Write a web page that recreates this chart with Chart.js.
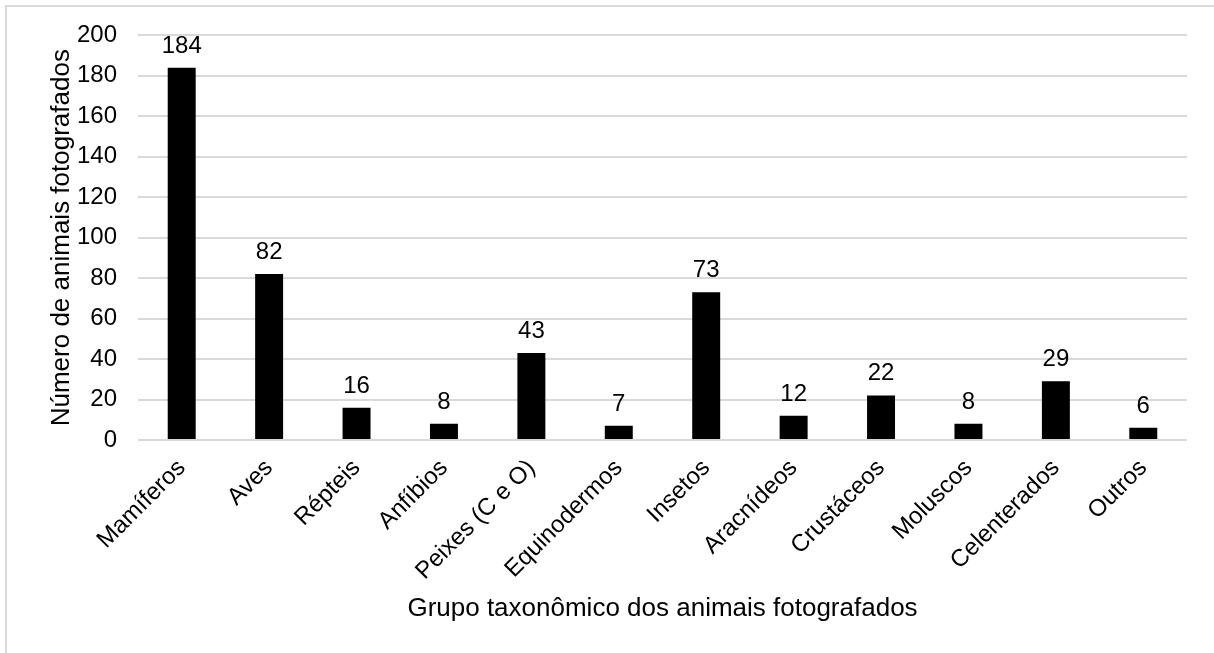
<!DOCTYPE html>
<html>
<head>
<meta charset="utf-8">
<script src="https://cdn.jsdelivr.net/npm/chart.js@4.4.1/dist/chart.umd.min.js"></script>
<style>
  html, body { margin: 0; padding: 0; background: #ffffff; }
  #wrap { position: relative; width: 1214px; height: 653px; overflow: hidden; }
  canvas { display: block; }
</style>
</head>
<body>
<div id="wrap"><canvas id="chart" width="1214" height="653"></canvas></div>
<script>
// Animal groups and the number photographed in each
const categories = ['Mamíferos', 'Aves', 'Répteis', 'Anfíbios', 'Peixes (C e O)', 'Equinodermos',
                    'Insetos', 'Aracnídeos', 'Crustáceos', 'Moluscos', 'Celenterados', 'Outros'];
const counts = [184, 82, 16, 8, 43, 7, 73, 12, 22, 8, 29, 6];
const yTicks = [0, 20, 40, 60, 80, 100, 120, 140, 160, 180, 200];

const FONT = '"Liberation Sans", Arial, Helvetica, sans-serif';

// White background plus the thin frame along the top and left edges
const framePlugin = {
  id: 'frame',
  beforeDraw(chart) {
    const ctx = chart.ctx;
    ctx.save();
    ctx.fillStyle = '#ffffff';
    ctx.fillRect(0, 0, chart.width, chart.height);
    ctx.strokeStyle = '#d9d9d9';
    ctx.lineWidth = 2;
    ctx.beginPath();
    ctx.moveTo(6, chart.height + 5);
    ctx.lineTo(6, 6);
    ctx.lineTo(chart.width + 5, 6);
    ctx.stroke();
    ctx.restore();
  }
};

// Value written above each bar
const valueLabels = {
  id: 'valueLabels',
  afterDatasetsDraw(chart) {
    const ctx = chart.ctx;
    const meta = chart.getDatasetMeta(0);
    ctx.save();
    ctx.fillStyle = '#000000';
    ctx.font = '24px ' + FONT;
    ctx.textAlign = 'center';
    ctx.textBaseline = 'alphabetic';
    meta.data.forEach((bar, i) => {
      ctx.fillText(String(counts[i]), bar.x, bar.y - 15);
    });
    ctx.restore();
  }
};

new Chart(document.getElementById('chart'), {
  type: 'bar',
  data: {
    labels: categories,
    datasets: [{
      data: counts,
      backgroundColor: '#000000',
      borderWidth: 0,
      barPercentage: 0.32,
      categoryPercentage: 1.0
    }]
  },
  options: {
    responsive: false,
    animation: false,
    devicePixelRatio: 1,
    layout: { padding: { top: 34, right: 27, bottom: 0, left: 0 } },
    plugins: {
      legend: { display: false },
      tooltip: { enabled: false }
    },
    scales: {
      x: {
        grid: { display: false, drawTicks: false },
        border: { display: false },
        ticks: {
          color: '#000000',
          font: { family: FONT, size: 24 },
          minRotation: 45,
          maxRotation: 45,
          autoSkip: false,
          padding: 14
        },
        title: {
          display: true,
          text: 'Grupo taxonômico dos animais fotografados',
          color: '#000000',
          font: { family: FONT, size: 26 },
          padding: { top: 0, bottom: 29 }
        },
        afterFit(scale) { scale.height = 213; }
      },
      y: {
        min: 0,
        max: 200,
        grid: { color: '#d9d9d9', lineWidth: 2, drawTicks: false },
        border: { display: false },
        afterBuildTicks(scale) { scale.ticks = yTicks.map(v => ({ value: v })); },
        ticks: {
          color: '#000000',
          font: { family: FONT, size: 24 },
          padding: 21
        },
        title: {
          display: true,
          text: 'Número de animais fotografados',
          color: '#000000',
          font: { family: FONT, size: 26 },
          padding: { top: 46, bottom: 0 }
        },
        afterFit(scale) { scale.width = 138; }
      }
    }
  },
  plugins: [framePlugin, valueLabels]
});
</script>
</body>
</html>
